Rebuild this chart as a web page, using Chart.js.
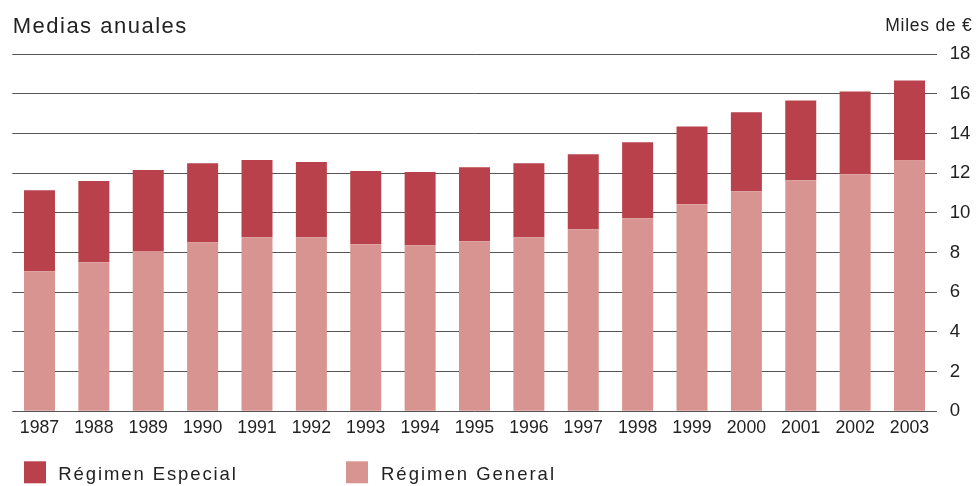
<!DOCTYPE html>
<html>
<head>
<meta charset="utf-8">
<script src="https://cdn.jsdelivr.net/npm/chart.js@4/dist/chart.umd.min.js"></script>
<style>
html,body{margin:0;padding:0;background:#fff;}
#wrap{width:977px;height:486px;position:relative;}
</style>
</head>
<body>
<div id="wrap"><canvas id="c"></canvas></div>
<script>
// ---- Data ----
const chartTitle = 'Medias anuales';
const unitLabel = 'Miles de €';
const years = ['1987','1988','1989','1990','1991','1992','1993','1994','1995','1996','1997','1998','1999','2000','2001','2002','2003'];
const regimenGeneral = [7.06, 7.51, 8.07, 8.52, 8.77, 8.77, 8.42, 8.37, 8.57, 8.77, 9.17, 9.72, 10.43, 11.08, 11.64, 11.94, 12.64];
const regimenEspecial = [4.08, 4.09, 4.08, 3.98, 3.89, 3.79, 3.68, 3.68, 3.73, 3.72, 3.78, 3.83, 3.92, 3.98, 4.02, 4.17, 4.03];
const seriesNames = ['Régimen Especial', 'Régimen General'];
const yTickValues = [0, 2, 4, 6, 8, 10, 12, 14, 16, 18];

const COL_ESP = '#B8414B';
const COL_GEN = '#D89490';
const TXT = '#222222';
const FONT = "'Liberation Sans', Arial, sans-serif";

const overlayText = {
  id: 'overlayText',
  afterDraw(chart) {
    const ctx = chart.ctx;
    ctx.save();
    ctx.fillStyle = TXT;
    ctx.textBaseline = 'alphabetic';
    ctx.textAlign = 'left';
    // title
    ctx.font = '22px ' + FONT;
    ctx.letterSpacing = '1.5px';
    ctx.fillText(chartTitle, 12.7, 32.5);
    // unit label (right aligned)
    ctx.font = '17.5px ' + FONT;
    ctx.letterSpacing = '0.75px';
    const uw = ctx.measureText(unitLabel).width - 0.75;
    ctx.fillText(unitLabel, 971.7 - uw, 31);
    // legend
    const items = [
      {name: seriesNames[0], color: COL_ESP, bx: 24, tx: 58.3, ls: '1.9px'},
      {name: seriesNames[1], color: COL_GEN, bx: 346, tx: 381, ls: '2px'}
    ];
    ctx.font = '18.5px ' + FONT;
    items.forEach(it => {
      ctx.fillStyle = it.color;
      ctx.fillRect(it.bx, 461.3, 22, 22);
      ctx.fillStyle = TXT;
      ctx.letterSpacing = it.ls;
      ctx.fillText(it.name, it.tx, 480);
    });
    ctx.restore();
  }
};

new Chart(document.getElementById('c'), {
  type: 'bar',
  data: {
    labels: years,
    datasets: [
      {label: seriesNames[1], data: regimenGeneral, backgroundColor: COL_GEN, borderWidth: 0, barPercentage: 0.57, categoryPercentage: 1.0},
      {label: seriesNames[0], data: regimenEspecial, backgroundColor: COL_ESP, borderWidth: 0, barPercentage: 0.57, categoryPercentage: 1.0}
    ]
  },
  options: {
    responsive: true,
    maintainAspectRatio: false,
    animation: false,
    devicePixelRatio: 1,
    layout: {padding: {left: 12.3, right: 0, top: 54, bottom: 0}},
    plugins: {
      legend: {display: false},
      title: {display: false},
      tooltip: {enabled: false}
    },
    scales: {
      x: {
        stacked: true,
        grid: {display: false},
        border: {display: false},
        afterFit(scale) { scale.height = 74.7; },
        ticks: {font: {family: FONT, size: 17.7}, color: TXT, padding: -1.8, maxRotation: 0, autoSkip: false}
      },
      y: {
        position: 'right',
        stacked: true,
        min: 0,
        max: 18,
        afterBuildTicks(scale) { scale.ticks = yTickValues.map(v => ({value: v})); },
        afterFit(scale) { scale.width = 40.3; },
        grid: {color: '#555555', lineWidth: 1, drawTicks: false},
        border: {display: false},
        ticks: {font: {family: FONT, size: 18.6}, color: TXT, padding: 13}
      }
    }
  },
  plugins: [overlayText]
});
</script>
</body>
</html>
